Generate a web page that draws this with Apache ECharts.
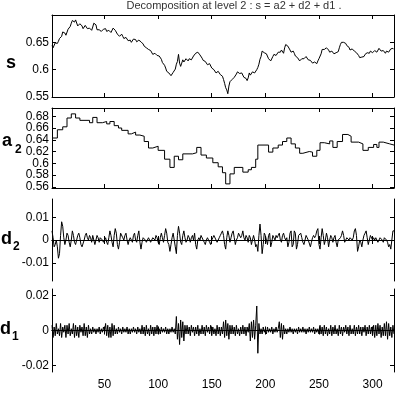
<!DOCTYPE html>
<html>
<head>
<meta charset="utf-8">
<script src="https://cdn.jsdelivr.net/npm/echarts@6/dist/echarts.min.js"></script>
<style>html,body{margin:0;padding:0;background:#fff}#chart{width:398px;height:398px}</style>
</head>
<body>
<div id="chart"></div>
<script>
// signal s, samples 1 .. 320
const sValues = [
  0.644,0.640,0.643,0.649,0.650,0.648,0.652,0.657,0.658,0.661,0.669,0.671,0.667,0.663,0.666,0.674,0.677,0.679,0.685,0.690,
  0.690,0.687,0.691,0.688,0.680,0.679,0.684,0.685,0.680,0.675,0.676,0.681,0.681,0.675,0.674,0.676,0.673,0.672,0.678,0.685,
  0.686,0.682,0.673,0.670,0.673,0.674,0.670,0.669,0.674,0.677,0.675,0.670,0.669,0.672,0.671,0.668,0.671,0.676,0.677,0.672,
  0.670,0.665,0.663,0.661,0.664,0.665,0.661,0.657,0.658,0.659,0.656,0.653,0.655,0.654,0.650,0.651,0.656,0.658,0.655,0.651,
  0.650,0.654,0.656,0.651,0.649,0.647,0.643,0.640,0.640,0.641,0.637,0.634,0.635,0.633,0.628,0.627,0.630,0.630,0.626,0.623,
  0.625,0.624,0.619,0.613,0.611,0.608,0.603,0.597,0.595,0.594,0.591,0.589,0.592,0.595,0.596,0.601,0.610,0.615,0.628,0.612,
  0.606,0.612,0.618,0.614,0.617,0.620,0.619,0.616,0.620,0.621,0.618,0.620,0.625,0.626,0.630,0.633,0.632,0.629,0.627,0.625,
  0.621,0.617,0.616,0.615,0.612,0.609,0.610,0.611,0.608,0.603,0.601,0.600,0.597,0.594,0.595,0.597,0.594,0.591,0.592,0.588,
  0.582,0.575,0.567,0.563,0.556,0.570,0.578,0.578,0.582,0.585,0.586,0.587,0.592,0.596,0.597,0.593,0.591,0.594,0.591,0.586,
  0.585,0.584,0.580,0.585,0.594,0.590,0.591,0.596,0.598,0.594,0.593,0.600,0.604,0.610,0.619,0.624,0.634,0.635,0.631,0.628,
  0.629,0.626,0.620,0.619,0.616,0.618,0.624,0.628,0.628,0.626,0.629,0.632,0.633,0.632,0.636,0.634,0.630,0.640,0.646,0.643,
  0.643,0.641,0.636,0.632,0.633,0.634,0.630,0.625,0.623,0.622,0.619,0.616,0.617,0.620,0.621,0.620,0.623,0.624,0.621,0.618,
  0.618,0.617,0.614,0.612,0.613,0.614,0.612,0.611,0.616,0.620,0.623,0.629,0.637,0.640,0.637,0.636,0.640,0.641,0.636,0.632,
  0.631,0.634,0.632,0.629,0.630,0.631,0.628,0.633,0.640,0.646,0.650,0.648,0.650,0.651,0.648,0.644,0.643,0.641,0.636,0.635,
  0.638,0.637,0.634,0.631,0.631,0.630,0.626,0.622,0.620,0.623,0.622,0.624,0.628,0.631,0.631,0.628,0.630,0.634,0.635,0.631,
  0.632,0.635,0.633,0.632,0.635,0.639,0.640,0.634,0.632,0.635,0.632,0.630,0.634,0.636,0.632,0.633,0.638,0.641,0.639,0.637
];
// approximation a2: piecewise constant, start sample of each level
const a2Start = [1,6,11,15,19,23,27,36,39,43,48,52,55,59,63,66,72,75,79,83,87,91,95,100,106,111,115,119,123,132,136,140,145,151,156,160,163,167,171,179,184,187,191,193,203,207,212,216,220,224,228,232,235,241,244,248,251,255,260,263,267,272,277,280,287,291,296,301,304,306,310,316];
const a2Level = [0.643,0.657,0.662,0.677,0.684,0.677,0.673,0.669,0.678,0.669,0.671,0.667,0.671,0.664,0.660,0.656,0.650,0.653,0.648,0.646,0.637,0.626,0.629,0.622,0.607,0.593,0.612,0.606,0.616,0.618,0.627,0.614,0.609,0.601,0.594,0.584,0.565,0.582,0.593,0.585,0.589,0.593,0.607,0.631,0.619,0.626,0.631,0.637,0.643,0.633,0.626,0.617,0.620,0.619,0.612,0.622,0.635,0.633,0.638,0.627,0.637,0.649,0.646,0.636,0.633,0.622,0.627,0.632,0.627,0.636,0.633,0.631];
// detail d2, samples 1 .. 320
const d2Values = [
  .004,.001,-.003,-.002,0,-.003,-.008,-.006,.002,.008,.006,.001,-.002,0,.003,.002,-.001,-.003,0,.004,
  .002,-.001,-.002,0,.002,.003,.001,-.002,-.003,-.003,0,.002,.003,.001,0,.002,.001,-.001,.002,0,
  -.002,0,.002,.001,-.001,.001,.001,0,-.001,0,.001,-.001,-.002,.001,.004,.002,-.001,-.003,.002,.005,
  .003,-.002,-.004,-.001,.003,.003,.001,0,.002,.003,0,-.002,0,.001,0,-.001,.002,.003,0,-.001,
  .002,.004,-.001,-.004,-.001,.001,.001,0,-.001,0,.001,0,-.001,0,.001,.001,0,.002,.001,-.001,
  -.002,.001,.003,.001,-.001,.002,.005,.003,-.001,-.002,-.005,-.002,.001,.003,0,-.003,-.006,.002,.006,.003,
  -.001,-.002,.002,.004,.001,-.001,0,.002,.001,-.001,.001,.002,0,.003,-.002,-.004,0,.001,0,.002,
  .002,0,-.001,-.002,0,.001,0,-.001,-.002,0,.001,.002,.002,0,-.001,0,.001,.002,.003,.004,
  .002,-.002,-.004,.001,.004,.002,-.001,.001,.003,.004,.001,-.002,0,.001,.003,.003,.001,.002,.004,.001,
  0,.002,.001,-.001,.002,.001,-.002,0,.002,0,-.003,-.002,-.005,.002,.007,.002,-.006,-.002,.003,.002,
  0,-.002,.002,.003,-.003,-.001,.002,.001,0,.002,.001,.002,.003,0,-.001,.002,.003,.001,0,.001,
  -.003,-.001,.003,.004,-.003,-.002,.004,.003,-.004,-.002,.002,.002,.003,.001,-.001,-.002,0,.002,.001,0,
  0,-.003,-.001,.001,.002,.001,.002,.004,.005,-.002,-.004,.001,.005,.002,-.002,0,.003,.001,-.003,0,
  .002,.001,-.001,.001,.002,-.001,-.003,0,0,.001,.002,.004,.002,-.001,0,.001,.001,0,.001,.001,
  0,.001,.004,.005,.002,-.005,-.003,0,-.001,-.003,0,.002,.003,.004,.001,-.002,0,.002,.002,0,
  .001,0,.001,.001,-.001,0,.001,.001,0,-.001,.001,.001,0,-.001,-.003,-.002,-.004,0,.004,.004
];
// detail d1, samples 1 .. 320
const d1Values = [
  .003,-.004,.002,-.003,.004,-.002,.001,-.003,.004,-.004,.002,-.001,.003,-.004,.003,-.002,.004,-.003,.001,-.002,
  .004,-.004,.003,-.003,.002,-.004,.003,-.001,.002,-.003,.004,-.003,.002,-.004,.003,-.002,
  .001,-.002,.002,-.001,.001,-.002,.001,-.001,.002,-.002,.001,-.001,.002,-.001,
  .004,-.003,.003,-.004,.002,-.004,.004,-.003,.003,-.002,
  .001,-.002,.002,-.001,.001,-.002,.002,-.001,.001,-.001,.002,-.002,.001,-.002,.001,-.001,.002,-.001,.001,-.002,.002,-.001,.001,-.002,
  .003,-.002,.002,-.003,.003,-.002,.001,-.003,.003,-.002,.002,-.003,.002,-.002,.003,-.002,
  .001,-.002,.002,-.001,.001,-.001,.002,-.002,.001,-.002,.001,-.001,.002,-.001,.001,-.002,
  .008,-.005,.004,-.008,.006,-.004,.005,-.006,.003,-.002,
  .003,-.002,.002,-.003,.003,-.001,.002,-.003,.002,-.002,.003,-.003,.001,-.002,.003,-.002,.002,-.003,.003,-.001,
  .002,-.002,.003,-.003,.002,-.002,.001,-.003,.003,-.002,.002,-.003,.002,-.002,
  .005,-.004,.006,-.003,.004,-.005,.003,-.002,
  .003,-.002,.002,-.003,.003,-.002,.001,-.003,.002,-.002,.003,-.002,.002,-.003,.002,-.001,
  .004,-.006,.005,-.004,.006,-.005,
  .003,.014,-.013,.004,
  -.002,.001,-.002,.002,-.001,.001,-.002,.002,-.001,.001,-.001,.002,-.002,.001,-.001,.002,-.001,.001,
  .005,-.004,.004,-.005,.003,-.002,
  .001,-.002,.001,-.001,.002,-.001,.001,-.002,.001,-.001,.001,-.002,.002,-.001,.001,-.001,
  .002,-.001,.001,-.002,.001,-.001,.002,-.001,.001,-.001,.002,-.002,.001,-.001,.001,-.002,
  .003,-.002,.002,-.003,.003,-.002,.002,-.003,.001,-.002,.003,-.003,.002,-.002,.003,-.002,.001,-.003,.003,-.002,
  .002,-.003,.002,-.001,.003,-.002,.002,-.003,.003,-.002,.001,-.002,.003,-.003,.002,-.002,.003,-.002,.002,-.003,
  .002,-.001,.003,-.003,.002,-.002,.003,-.002,.002,-.003,
  .003,-.004,.003,-.003,.004,-.002,.003,-.004,.002,-.003,.004,-.003,.005,-.005,.004,-.003,.002,-.004,.003,-.002
];

const xTicks = [50, 100, 150, 200, 250, 300];
const sTicks = [0.55, 0.6, 0.65];
const a2Ticks = [0.56, 0.58, 0.6, 0.62, 0.64, 0.66, 0.68];
const d2Ticks = [-0.01, 0, 0.01];
const d1Ticks = [-0.02, 0, 0.02];

const FONT = '"Liberation Sans", Arial, sans-serif';

const bySample = v => v.map((y, k) => [k + 1, y]);
const a2Pts = a2Start.map((x, k) => [x, a2Level[k]]).concat([[320, a2Level[a2Level.length - 1]]]);

const panels = [
  { top: 15, height: 82, min: 0.55, max: 0.70, ticks: sTicks, data: bySample(sValues) },
  { top: 108, height: 80, min: 0.558, max: 0.694, ticks: a2Ticks, data: a2Pts, step: 'end' },
  { top: 199, height: 82, min: -0.018, max: 0.018, ticks: d2Ticks, data: bySample(d2Values) },
  { top: 289, height: 83, min: -0.0237, max: 0.0237, ticks: d1Ticks, data: bySample(d1Values) }
];

const line = { show: true, lineStyle: { color: '#000', width: 1 } };
const labelStyle = { margin: 3, color: '#000', fontSize: 12, fontFamily: FONT, showMinLabel: true, showMaxLabel: true, hideOverlap: false };
const grid = [], xAxis = [], yAxis = [], series = [];
panels.forEach((p, i) => {
  grid.push({ left: 52, width: 342, top: p.top, height: p.height });
  ['bottom', 'top'].forEach(pos => {
    xAxis.push({
      type: 'value', gridIndex: i, position: pos, min: 1, max: 320,
      axisLine: line, splitLine: { show: false },
      axisTick: { inside: true, length: 4, lineStyle: { color: '#000' }, customValues: xTicks },
      axisLabel: Object.assign({}, labelStyle, { show: pos === 'bottom' && i === 3, customValues: xTicks, margin: 7 })
    });
  });
  // the tick labels are split over two left axes so that the tight a2 labels are not dropped
  const even = p.ticks.filter((v, k) => k % 2 === 0);
  const odd = p.ticks.filter((v, k) => k % 2 === 1);
  const yIndex = yAxis.length;
  yAxis.push({
    type: 'value', gridIndex: i, position: 'left', min: p.min, max: p.max,
    axisLine: line, splitLine: { show: false },
    axisTick: { inside: true, length: 4, lineStyle: { color: '#000' }, customValues: p.ticks },
    axisLabel: Object.assign({}, labelStyle, { customValues: even })
  });
  yAxis.push({
    type: 'value', gridIndex: i, position: 'left', offset: 0, min: p.min, max: p.max,
    axisLine: { show: false }, splitLine: { show: false }, axisTick: { show: false },
    axisLabel: Object.assign({}, labelStyle, { show: odd.length > 0, customValues: odd })
  });
  yAxis.push({
    type: 'value', gridIndex: i, position: 'right', min: p.min, max: p.max,
    axisLine: line, splitLine: { show: false },
    axisTick: { inside: true, length: 4, lineStyle: { color: '#000' }, customValues: p.ticks },
    axisLabel: { show: false }
  });
  series.push({
    type: 'line', xAxisIndex: 2 * i, yAxisIndex: yIndex, data: p.data,
    step: p.step || false, showSymbol: false, silent: true,
    lineStyle: { color: '#000', width: 1 }
  });
});

function txt(x, y, text, size) {
  return { type: 'text', silent: true, style: { x: x, y: y, text: text, font: 'bold ' + size + 'px ' + FONT, fill: '#000', textAlign: 'left', textVerticalAlign: 'bottom', align: 'left', verticalAlign: 'bottom' } };
}

const chart = echarts.init(document.getElementById('chart'), null, { renderer: 'canvas' });
chart.setOption({
  animation: false,
  backgroundColor: '#fff',
  grid: grid, xAxis: xAxis, yAxis: yAxis, series: series,
  graphic: [
    { type: 'text', silent: true, style: { x: 234, y: 5.5, text: 'Decomposition at level 2 : s = a2 + d2 + d1 .', font: '11px ' + FONT, fill: '#333', textAlign: 'center', align: 'center', textVerticalAlign: 'middle', verticalAlign: 'middle' } },
    txt(6, 72, 's', 18),
    txt(2, 150, 'a', 18), txt(15, 156, '2', 12),
    txt(1, 248, 'd', 18), txt(13, 253, '2', 12),
    txt(0, 338, 'd', 18), txt(12, 343, '1', 12)
  ]
});
</script>
</body>
</html>
